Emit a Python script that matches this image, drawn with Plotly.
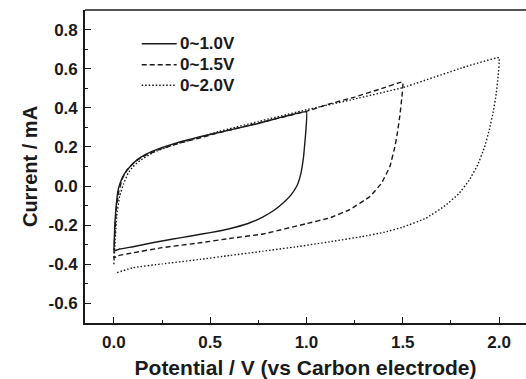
import plotly.graph_objects as go

# ---- data ----
names = ["0~1.0V", "0~1.5V", "0~2.0V"]

v1 = [0.0, 0.005, 0.012, 0.022, 0.04, 0.057, 0.08, 0.1, 0.14, 0.187, 0.26, 0.35, 0.447, 0.55, 0.75, 1.0,
      0.995, 0.985, 0.97, 0.95, 0.92, 0.88, 0.83, 0.77, 0.7, 0.6, 0.5, 0.4, 0.3, 0.2, 0.1, 0.03, 0.0]
i1 = [-0.325, -0.19, -0.1, -0.019, 0.035, 0.066, 0.095, 0.117, 0.148, 0.172, 0.2, 0.228, 0.252, 0.275, 0.32, 0.38,
      0.26, 0.15, 0.06, 0.0, -0.045, -0.085, -0.125, -0.16, -0.19, -0.218, -0.238, -0.255, -0.272, -0.29, -0.31, -0.322, -0.333]

v2 = [0.0, 0.005, 0.012, 0.025, 0.045, 0.07, 0.11, 0.17, 0.26, 0.35, 0.45, 0.55, 0.75, 1.0, 1.12, 1.25, 1.38, 1.5,
      1.495, 1.485, 1.472, 1.459, 1.433, 1.39, 1.33, 1.225, 1.12, 1.0, 0.774, 0.6, 0.447, 0.25, 0.1, 0.014, 0.0]
i2 = [-0.37, -0.25, -0.12, -0.03, 0.04, 0.085, 0.125, 0.16, 0.195, 0.222, 0.247, 0.274, 0.322, 0.382, 0.42, 0.455, 0.495, 0.532,
      0.45, 0.36, 0.27, 0.2, 0.1, 0.015, -0.053, -0.12, -0.163, -0.192, -0.245, -0.268, -0.29, -0.315, -0.341, -0.358, -0.37]

v3 = [0.0, 0.005, 0.015, 0.03, 0.05, 0.074, 0.1, 0.135, 0.2, 0.3, 0.45, 0.55, 0.75, 1.0, 1.25, 1.5, 1.81, 2.0,
      1.995, 1.985, 1.97, 1.95, 1.925, 1.89, 1.845, 1.79, 1.72, 1.62, 1.5, 1.4, 1.29, 1.12, 0.95,
      0.774, 0.6, 0.447, 0.25, 0.1, 0.014]
i3 = [-0.40, -0.3, -0.15, -0.05, 0.01, 0.066, 0.1, 0.13, 0.17, 0.208, 0.25, 0.28, 0.33, 0.39, 0.445, 0.503, 0.605, 0.656,
      0.56, 0.47, 0.38, 0.29, 0.2, 0.11, 0.03, -0.04, -0.1, -0.165, -0.21, -0.237, -0.258, -0.285, -0.31,
      -0.333, -0.355, -0.375, -0.398, -0.417, -0.443]

x_tickvals = [0.0, 0.5, 1.0, 1.5, 2.0]
x_ticktext = ["0.0", "0.5", "1.0", "1.5", "2.0"]
y_tickvals = [-0.6, -0.4, -0.2, 0.0, 0.2, 0.4, 0.6, 0.8]
y_ticktext = ["-0.6", "-0.4", "-0.2", "0.0", "0.2", "0.4", "0.6", "0.8"]

FONT = "Liberation Sans, Arial, Helvetica, sans-serif"
INK = "#1a1a1a"
dashes = ["solid", "5px,3px", "1.5px,2px"]

fig = go.Figure()
for vx, iy, dash, nm in zip([v1, v2, v3], [i1, i2, i3], dashes, names):
    fig.add_trace(go.Scatter(x=vx, y=iy, mode="lines", name=nm, showlegend=False,
                             line=dict(color=INK, width=1.4, dash=dash, shape="spline", smoothing=0.25)))

axis_common = dict(showline=True, linecolor=INK, linewidth=1.6, ticks="inside", ticklen=6, tickwidth=1.3,
                   tickcolor=INK, showgrid=False, zeroline=False, tickmode="array",
                   tickfont=dict(family=FONT, size=17, color=INK, weight="bold"))

fig.update_layout(
    width=526, height=379,
    margin=dict(l=85, r=0, t=10, b=56),
    paper_bgcolor="white", plot_bgcolor="white",
    xaxis=dict(range=[-0.15, 2.14], tickvals=x_tickvals, ticktext=x_ticktext,
               minor=dict(tickmode="linear", tick0=0, dtick=0.25, ticks="inside", ticklen=3.5, tickwidth=1.2, tickcolor=INK),
               title=dict(text="Potential / V (vs Carbon electrode)", standoff=11,
                          font=dict(family=FONT, size=21, color=INK, weight="bold")),
               ticklabelstandoff=3,
               **axis_common),
    yaxis=dict(range=[-0.7, 0.9], tickvals=y_tickvals, ticktext=y_ticktext,
               minor=dict(tickmode="linear", tick0=0, dtick=0.1, ticks="inside", ticklen=3.5, tickwidth=1.2, tickcolor=INK),
               title=dict(text="Current / mA", standoff=6,
                          font=dict(family=FONT, size=20, color=INK, weight="bold")),
               ticklabelstandoff=2,
               **axis_common),
)

# top frame line (right side is cropped in the reference)
fig.add_shape(type="line", xref="paper", yref="paper", x0=0, x1=1, y0=1, y1=1,
              line=dict(color=INK, width=1.6))

# legend drawn in place (sample line + label)
leg_rows_y = [0.8923, 0.8252, 0.7594]
for nm, dash, ly in zip(names, dashes, leg_rows_y):
    fig.add_shape(type="line", xref="paper", yref="paper", x0=0.1286, x1=0.2079, y0=ly, y1=ly,
                  line=dict(color=INK, width=1.4, dash=dash))
    fig.add_annotation(xref="paper", yref="paper", x=0.2154, y=ly, text=nm, showarrow=False,
                       xanchor="left", yanchor="middle", borderpad=0, xshift=-1,
                       font=dict(family=FONT, size=17, color=INK, weight="bold"))

fig.write_html("out.html")
